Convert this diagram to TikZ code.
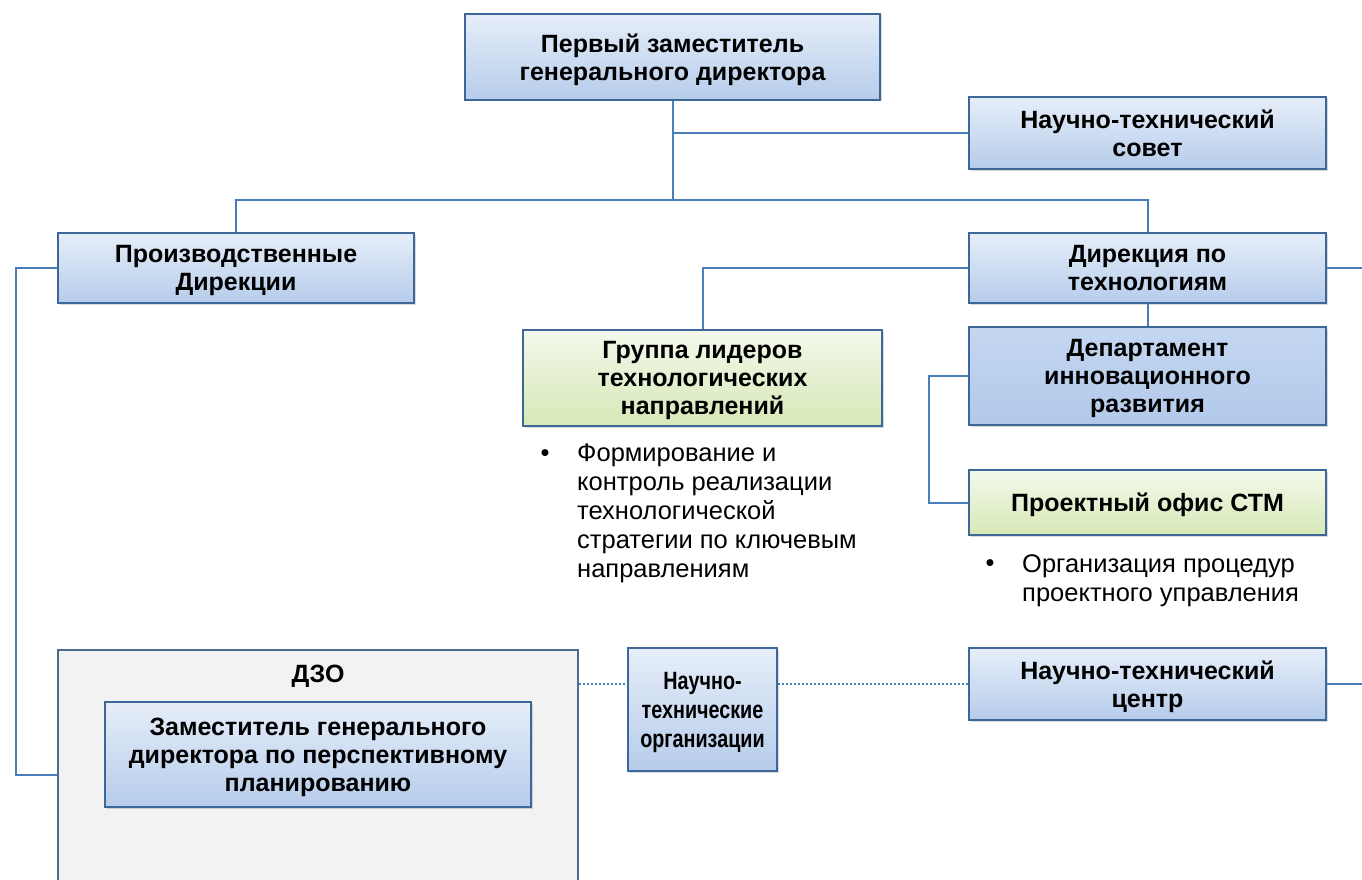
\documentclass[tikz,border=0pt]{standalone}
\usepackage{fontspec}
\setmainfont{Liberation Sans}
\newfontfamily\narrowfont{Liberation Sans}[FakeStretch=0.79]
\usetikzlibrary{shadows}
\definecolor{boxtop}{HTML}{E6EEF9}
\definecolor{boxbot}{HTML}{B6CCEB}
\definecolor{deptop}{HTML}{C4D7F1}
\definecolor{depbot}{HTML}{B2C9EA}
\definecolor{grntop}{HTML}{F4F9EC}
\definecolor{grnbot}{HTML}{D6E8B6}
\definecolor{boxline}{HTML}{3D6797}
\definecolor{conline}{HTML}{4A7EBB}
\definecolor{dzofill}{HTML}{F2F2F2}
\definecolor{dzoline}{HTML}{4C6B8E}
\newcommand{\boxfont}{\bfseries\fontsize{25}{28}\selectfont}
\newcommand{\narrowbox}{\narrowfont\bfseries\fontsize{25}{29}\selectfont}
\newcommand{\notefont}{\fontsize{25.5}{29}\selectfont}

\begin{document}
\begin{tikzpicture}[x=1pt,y=-1pt,
  every node/.style={align=center,inner sep=0pt,font=\boxfont},
  org/.style={draw=boxline,line width=1.6pt,top color=boxtop,bottom color=boxbot,text depth=-3pt,
    drop shadow={shadow xshift=1.5pt,shadow yshift=-1.5pt,opacity=0.3}},
  dept/.style={org,top color=deptop,bottom color=depbot},
  grn/.style={org,top color=grntop,bottom color=grnbot},
  dzobox/.style={draw=dzoline,line width=1.6pt,fill=dzofill},
  note/.style={align=left,font=\notefont,anchor=north west},
  link/.style={draw=conline,line width=2pt},
  dotlink/.style={link,dotted,line width=1.6pt}]
  \useasboundingbox (0,0) rectangle (1362,880);

  \node[org,minimum width=415,minimum height=86] (first) at (672.5,57) {Первый заместитель\\генерального директора};
  \node[org,minimum width=357,minimum height=72] (ntsov) at (1147.5,133) {Научно-технический\\совет};
  \node[org,minimum width=356,minimum height=70] (prod) at (236,268) {Производственные\\Дирекции};
  \node[org,minimum width=357,minimum height=70] (dirtech) at (1147.5,268) {Дирекция по\\технологиям};
  \node[grn,minimum width=359,minimum height=96] (group) at (702.5,378) {Группа лидеров\\технологических\\направлений};
  \node[dept,minimum width=357,minimum height=98] (depinn) at (1147.5,376) {Департамент\\инновационного\\развития};
  \node[grn,minimum width=357,minimum height=65] (office) at (1147.5,502.5) {Проектный офис СТМ};

  \node[font=\notefont] (gbul) at (545,456) {•};
  \node[note] (gnote) at (577,444) {Формирование и\\контроль реализации\\технологической\\стратегии по ключевым\\направлениям};
  \node[font=\notefont] (obul) at (990,566) {•};
  \node[note] (onote) at (1022,554) {Организация процедур\\проектного управления};

  \node[dzobox,minimum width=520,minimum height=250] (dzo) at (318,775) {};
  \node (dzot) at (318,676) {ДЗО};
  \node[org,minimum width=426,minimum height=105] (zam) at (318,754.5) {Заместитель генерального\\директора по перспективному\\планированию};
  \node[org,minimum width=149,minimum height=123,font=\narrowbox] (nto) at (702.5,709.5) {Научно-\\технические\\организации};
  \node[org,minimum width=357,minimum height=72] (ntc) at (1147.5,684) {Научно-технический\\центр};

  \coordinate (bus) at (672.5,200);
  \coordinate (pleft) at (16,268);
  \coordinate (dleft) at (929,376);
  \coordinate (rtop) at (1362,268);
  \coordinate (rbot) at (1362,684);

  \draw[link] (first.south) -- (bus);
  \draw[link] (first.south |- ntsov.west) -- (ntsov.west);
  \draw[link] (prod.north) |- (bus) -| (dirtech.north);
  \draw[link] (dirtech.west) -| (group.north);
  \draw[link] (dirtech.east) -- (rtop);
  \draw[link] (dirtech.south) -- (depinn.north);
  \draw[link] (depinn.west) -- (dleft) |- (office.west);
  \draw[link] (prod.west) -- (pleft) |- (dzo.west);
  \draw[dotlink] (dzo.east |- ntc.west) -- (nto.west |- ntc.west);
  \draw[dotlink] (nto.east |- ntc.west) -- (ntc.west);
  \draw[link] (ntc.east) -- (rbot);
\end{tikzpicture}
\end{document}
